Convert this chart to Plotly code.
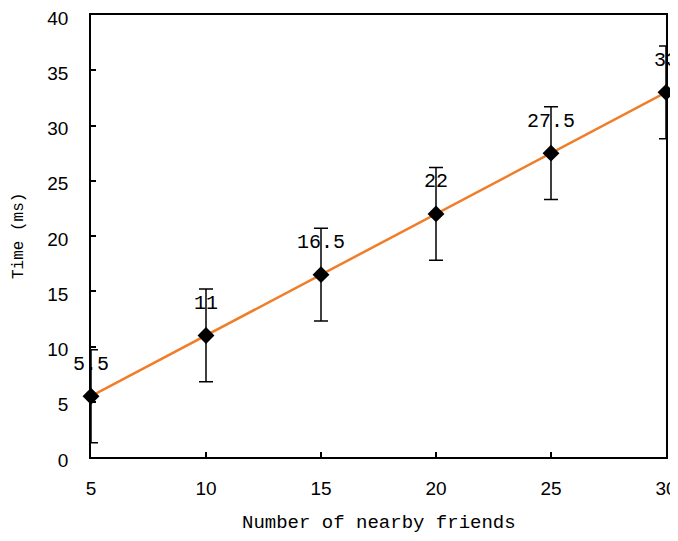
import plotly.graph_objects as go

friends = [5, 10, 15, 20, 25, 30]
time_ms = [5.5, 11, 16.5, 22, 27.5, 33]
err = [4.2, 4.2, 4.2, 4.2, 4.2, 4.2]
labels = ["5.5", "11", "16.5", "22", "27.5", "33"]

fig = go.Figure()
fig.add_trace(go.Scatter(
    x=friends, y=time_ms, mode="lines+markers",
    line=dict(color="#F07D28", width=2.5),
    marker=dict(symbol="diamond", size=13, color="black"),
    error_y=dict(type="data", array=err, visible=True, color="black",
                 thickness=1.5, width=7),
    cliponaxis=False, showlegend=False,
))

for xv, yv, t in zip(friends, time_ms, labels):
    fig.add_annotation(x=xv, y=yv, text=t, showarrow=False, yshift=32,
                       xanchor="center", yanchor="middle",
                       font=dict(family="Liberation Mono", size=20, color="black"))

fig.add_annotation(xref="paper", yref="paper", x=0.5, y=0, yshift=-66,
                   xanchor="center", yanchor="middle",
                   text="Number of nearby friends", showarrow=False,
                   font=dict(family="Liberation Mono", size=19, color="black"))
fig.add_annotation(xref="paper", yref="paper", x=0, y=0.5, xshift=-72, textangle=-90,
                   xanchor="center", yanchor="middle",
                   text="Time (ms)", showarrow=False,
                   font=dict(family="Liberation Mono", size=16, color="black"))

fig.update_layout(
    width=678, height=541,
    margin=dict(l=83, r=20, t=7, b=92),
    paper_bgcolor="white", plot_bgcolor="white",
    font=dict(family="Liberation Sans", size=19, color="black"),
)
fig.update_xaxes(range=[5, 30], tickvals=[5, 10, 15, 20, 25, 30],
                 ticks="inside", ticklen=5, tickcolor="black", tickwidth=1.5,
                 showline=True, linecolor="black", linewidth=1.5, mirror=True,
                 showgrid=False, zeroline=False, automargin=False,
                 ticklabelstandoff=13, ticklabeloverflow="allow")
fig.update_yaxes(range=[0, 40], tickvals=[0, 5, 10, 15, 20, 25, 30, 35, 40],
                 ticks="inside", ticklen=5, tickcolor="black", tickwidth=1.5,
                 showline=True, linecolor="black", linewidth=1.5, mirror=True,
                 showgrid=False, zeroline=False, automargin=False,
                 ticklabelstandoff=17, ticklabelshift=3, ticklabeloverflow="allow")

fig.write_html("out.html")
